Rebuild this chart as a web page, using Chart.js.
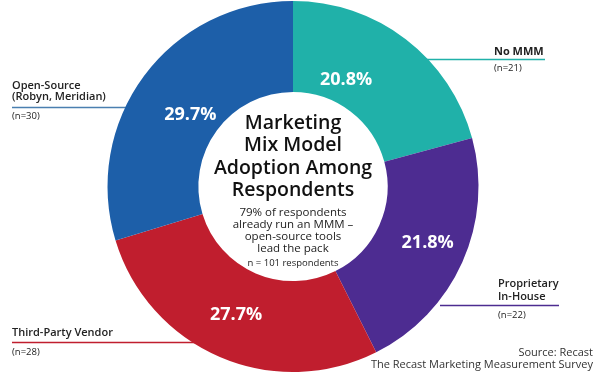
<!DOCTYPE html>
<html>
<head>
<meta charset="utf-8">
<script src="https://cdn.jsdelivr.net/npm/chart.js@4"></script>
<style>
  html, body { margin: 0; padding: 0; background: #fff; }
  #wrap { position: relative; width: 600px; height: 375px; }
</style>
</head>
<body>
<div id="wrap"><canvas id="donut"></canvas></div>
<script>
// data
const categories = ['No MMM', 'Proprietary In-House', 'Third-Party Vendor', 'Open-Source (Robyn, Meridian)'];
const shares = [20.8, 21.8, 27.7, 29.7];
const counts = [21, 22, 28, 30];
const colors = ['#20b1a9', '#4d2c91', '#c01e2e', '#1d5fa9'];

const FONT = '"Open Sans", sans-serif';

// where each % label sits: angle from 12 o'clock (deg), distance from centre (px)
const pctPos = [[26.5, 119], [112.7, 146], [204, 140], [304.8, 125]];

// callouts: text lines, x, text line y's, n y, line y, line x range
const callouts = [
  { lines: ['No MMM'], bold: 700, x: 494, ys: [52], ny: 68, ly: 59.5, lx: [420, 545], color: '#20b1a9' },
  { lines: ['Proprietary', 'In-House'], bold: 600, x: 498, ys: [284, 297], ny: 315, ly: 305.5, lx: [440, 559], color: '#4d2c91' },
  { lines: ['Third-Party Vendor'], bold: 600, x: 12, ys: [333], ny: 352, ly: 342.5, lx: [12, 200], color: '#c01e2e' },
  { lines: ['Open-Source', '(Robyn, Meridian)'], bold: 600, x: 12, ys: [86, 97], ny: 116, ly: 107.5, lx: [12, 140], color: '#4a7fb0' }
];

const calloutLines = {
  id: 'calloutLines',
  beforeDatasetsDraw(chart) {
    const ctx = chart.ctx;
    ctx.save();
    ctx.lineWidth = 1.5;
    callouts.forEach(c => {
      ctx.strokeStyle = c.color;
      ctx.beginPath();
      ctx.moveTo(c.lx[0], c.ly);
      ctx.lineTo(c.lx[1], c.ly);
      ctx.stroke();
    });
    ctx.restore();
  },
  afterDraw(chart) {
    const ctx = chart.ctx;
    const arc0 = chart.getDatasetMeta(0).data[0];
    const cx = arc0.x, cy = arc0.y;
    ctx.save();
    ctx.textBaseline = 'middle';

    // percentages on the slices
    ctx.fillStyle = '#fff';
    ctx.textAlign = 'center';
    ctx.font = '700 18px ' + FONT;
    shares.forEach((v, i) => {
      const a = pctPos[i][0] * Math.PI / 180;
      const r = pctPos[i][1];
      ctx.fillText(v.toFixed(1) + '%', cx + r * Math.sin(a), cy - r * Math.cos(a));
    });

    // callout texts
    ctx.fillStyle = '#222';
    ctx.textAlign = 'left';
    callouts.forEach((c, i) => {
      ctx.font = c.bold + ' 11px ' + FONT;
      c.lines.forEach((t, j) => ctx.fillText(t, c.x, c.ys[j]));
      ctx.font = '400 9.5px ' + FONT;
      ctx.fillText('(n=' + counts[i] + ')', c.x, c.ny);
    });

    // centre title
    ctx.textAlign = 'center';
    ctx.fillStyle = '#111';
    ctx.font = '600 19.5px ' + FONT;
    ['Marketing', 'Mix Model', 'Adoption Among', 'Respondents'].forEach((t, j) => {
      ctx.fillText(t, cx, 123 + j * 22.5);
    });
    ctx.fillStyle = '#222';
    ctx.font = '400 11.5px ' + FONT;
    ['79% of respondents', 'already run an MMM \u2013', 'open-source tools', 'lead the pack'].forEach((t, j) => {
      ctx.fillText(t, cx, 213 + j * 11.9);
    });
    ctx.font = '400 9.5px ' + FONT;
    ctx.fillText('n = 101 respondents', cx, 263);

    // source
    ctx.textAlign = 'right';
    ctx.fillStyle = '#333';
    ctx.font = '400 11px ' + FONT;
    ctx.fillText('Source: Recast', 593, 353);
    ctx.fillText('The Recast Marketing Measurement Survey', 593, 365);
    ctx.restore();
  }
};

new Chart(document.getElementById('donut'), {
  type: 'doughnut',
  data: {
    labels: categories,
    datasets: [{
      data: shares,
      backgroundColor: colors,
      borderWidth: 0,
      hoverOffset: 0
    }]
  },
  options: {
    responsive: true,
    maintainAspectRatio: false,
    animation: false,
    cutout: '51%',
    layout: { padding: { left: 0, right: 14, top: 1, bottom: 3 } },
    plugins: {
      legend: { display: false },
      tooltip: { enabled: false }
    }
  },
  plugins: [calloutLines]
});
</script>
</body>
</html>
